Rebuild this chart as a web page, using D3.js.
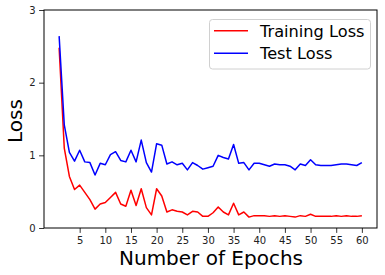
<!DOCTYPE html>
<html>
<head>
<meta charset="utf-8">
<script src="https://cdn.jsdelivr.net/npm/d3@7"></script>
<style>
  body { margin: 0; background: #fff; }
  text { font-family: "DejaVu Sans", sans-serif; }
</style>
</head>
<body>
<svg width="385" height="275"></svg>
<script>
const epochs = d3.range(1, 61);
const trainLoss = [
  2.48, 1.10, 0.71, 0.53, 0.59, 0.49, 0.39, 0.26, 0.33, 0.35,
  0.42, 0.49, 0.33, 0.30, 0.52, 0.31, 0.54, 0.28, 0.18, 0.54,
  0.44, 0.22, 0.25, 0.23, 0.22, 0.18, 0.23, 0.22, 0.16, 0.16,
  0.21, 0.29, 0.22, 0.18, 0.34, 0.18, 0.22, 0.15, 0.17, 0.17,
  0.17, 0.16, 0.17, 0.16, 0.17, 0.16, 0.15, 0.17, 0.16, 0.19,
  0.16, 0.16, 0.16, 0.16, 0.17, 0.16, 0.17, 0.16, 0.16, 0.17
];
const testLoss = [
  2.64, 1.42, 1.04, 0.92, 1.07, 0.91, 0.90, 0.73, 0.89, 0.87,
  1.01, 1.05, 0.93, 0.91, 1.07, 0.91, 1.21, 0.90, 0.77, 1.16,
  1.14, 0.88, 0.91, 0.87, 0.89, 0.80, 0.90, 0.86, 0.81, 0.83,
  0.85, 1.00, 0.97, 0.95, 1.15, 0.89, 0.90, 0.80, 0.89, 0.89,
  0.87, 0.85, 0.88, 0.87, 0.87, 0.85, 0.80, 0.88, 0.86, 0.94,
  0.87, 0.86, 0.86, 0.86, 0.87, 0.88, 0.88, 0.87, 0.86, 0.90
];
const xTicks = [5, 10, 15, 20, 25, 30, 35, 40, 45, 50, 55, 60];
const yTicks = [0, 1, 2, 3];
const seriesNames = ["Training Loss", "Test Loss"];
const seriesColors = ["#ff0000", "#0000ff"];

const plotLeft = 44, plotRight = 377, plotTop = 10, plotBottom = 228;
const svg = d3.select("svg");

const x = d3.scaleLinear().domain([-1.95, 62.95]).range([plotLeft, plotRight]);
const y = d3.scaleLinear().domain([0, 3]).range([plotBottom, plotTop]);

// axes
const xAxis = svg.append("g")
  .attr("transform", `translate(0,${plotBottom})`)
  .call(d3.axisBottom(x).tickValues(xTicks).tickSize(4.9).tickPadding(3.5));
const yAxis = svg.append("g")
  .attr("transform", `translate(${plotLeft},0)`)
  .call(d3.axisLeft(y).tickValues(yTicks).tickFormat(d3.format("d")).tickSize(4.9).tickPadding(3.5));

[xAxis, yAxis].forEach(g => {
  g.select(".domain").remove();
  g.selectAll("line").attr("stroke", "#000").attr("stroke-width", 0.8);
  g.selectAll("text").attr("font-size", 10).attr("fill", "#222")
    .style("font-family", "DejaVu Sans");
});

// lines
const line = d3.line().x((d, i) => x(epochs[i])).y(d => y(d));
[trainLoss, testLoss].forEach((s, k) => {
  svg.append("path")
    .datum(s)
    .attr("d", line)
    .attr("fill", "none")
    .attr("stroke", seriesColors[k])
    .attr("stroke-width", 1.5)
    .attr("stroke-linejoin", "round");
});

// frame
svg.append("rect")
  .attr("x", plotLeft).attr("y", plotTop)
  .attr("width", plotRight - plotLeft).attr("height", plotBottom - plotTop)
  .attr("fill", "none").attr("stroke", "#000").attr("stroke-width", 1);

// axis labels
svg.append("text")
  .attr("x", (plotLeft + plotRight) / 2 + 0.5).attr("y", 265)
  .attr("text-anchor", "middle").attr("font-size", 20)
  .text("Number of Epochs");
svg.append("text")
  .attr("transform", `translate(22,${(plotTop + plotBottom) / 2 + 2}) rotate(-90)`)
  .attr("text-anchor", "middle").attr("font-size", 20)
  .text("Loss");

// legend
const legend = svg.append("g");
legend.append("rect")
  .attr("x", 209.5).attr("y", 19.5).attr("width", 161).attr("height", 49.5)
  .attr("rx", 3).attr("fill", "#fff").attr("fill-opacity", 0.8)
  .attr("stroke", "#d0d0d0").attr("stroke-width", 1);
seriesNames.forEach((name, i) => {
  const ly = 30.7 + i * 22.6;
  legend.append("line")
    .attr("x1", 214).attr("x2", 248).attr("y1", ly).attr("y2", ly)
    .attr("stroke", seriesColors[i]).attr("stroke-width", 1.5);
  legend.append("text")
    .attr("x", 260).attr("y", ly + 5.8)
    .attr("font-size", 16.2)
    .text(name);
});
</script>
</body>
</html>
